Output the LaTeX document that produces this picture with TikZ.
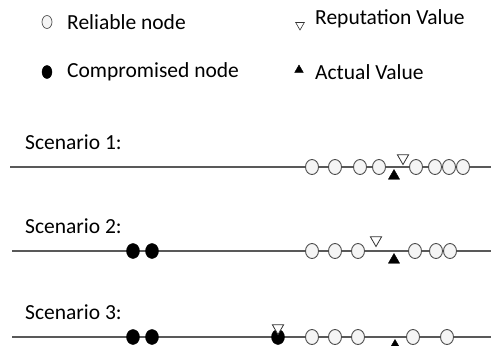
\documentclass[tikz,border=0pt]{standalone}
\usepackage{fontspec}
\setmainfont{Carlito}
\usetikzlibrary{shapes.geometric}
\begin{document}
\begin{tikzpicture}[x=1pt,y=-1pt,
  txt/.style={anchor=west, inner sep=0pt, font=\fontsize{21.5}{25}\selectfont, text=black},
  rel/.style={draw=black!70, fill=black!4, ellipse, minimum width=13pt, minimum height=15pt, inner sep=0pt, line width=0.9pt},
  comp/.style={draw=black, fill=black, ellipse, minimum width=13pt, minimum height=15pt, inner sep=0pt},
  repv/.style={draw=black!80, fill=white, regular polygon, regular polygon sides=3, shape border rotate=180, minimum size=13pt, inner sep=0pt, line width=0.8pt},
  actv/.style={draw=black, fill=black, regular polygon, regular polygon sides=3, minimum size=13pt, inner sep=0pt},
  axis/.style={draw=black!65, line width=1.2pt}]
\useasboundingbox (0,0) rectangle (491,346);
% legend
\node[rel, minimum width=10pt, minimum height=13pt, line width=0.7pt] (lrel) at (47,22) {};
\node[txt] (trel) at (67,22) {Reliable node};
\node[comp, minimum width=10pt, minimum height=13pt] (lcomp) at (47,72) {};
\node[txt] (tcomp) at (67,72) {Compromised node};
\node[repv, minimum size=10pt, line width=0.6pt] (lrep) at (300,25) {};
\node[txt] (trep) at (315,19) {Reputation Value};
\node[actv, minimum size=10pt] (lact) at (299,70) {};
\node[txt] (tact) at (315,72) {Actual Value};
% scenario 1
\node[txt] (s1) at (25,142) {Scenario 1:};
\coordinate (a1) at (10,167);
\coordinate (b1) at (491,167);
\draw[axis] (a1) -- (b1);
\foreach \x/\n in {312/1,335/2,360/3,379/4,416/5,435/6,449/7,463/8}
  \node[rel] (s1c\n) at (\x,167) {};
\node[repv] (s1r) at (403,158) {};
\node[actv] (s1a) at (394,176) {};
% scenario 2
\node[txt] (s2) at (25,226) {Scenario 2:};
\coordinate (a2) at (12,251);
\coordinate (b2) at (491,251);
\draw[axis] (a2) -- (b2);
\node[comp] (s2k1) at (133,251) {};
\node[comp] (s2k2) at (152,251) {};
\foreach \x/\n in {312/1,335/2,358/3,415/4,436/5,450/6}
  \node[rel] (s2c\n) at (\x,251) {};
\node[repv] (s2r) at (376,240) {};
\node[actv] (s2a) at (394,260) {};
% scenario 3
\node[txt] (s3) at (25,312) {Scenario 3:};
\coordinate (a3) at (12,337);
\coordinate (b3) at (491,337);
\draw[axis] (a3) -- (b3);
\node[comp] (s3k1) at (133,337) {};
\node[comp] (s3k2) at (152,337) {};
\node[comp] (s3k3) at (278,337) {};
\node[repv] (s3r) at (278,328) {};
\foreach \x/\n in {312/1,335/2,358/3,413/4,447/5}
  \node[rel] (s3c\n) at (\x,337) {};
\node[actv] (s3a) at (395,346) {};
\end{tikzpicture}
\end{document}
